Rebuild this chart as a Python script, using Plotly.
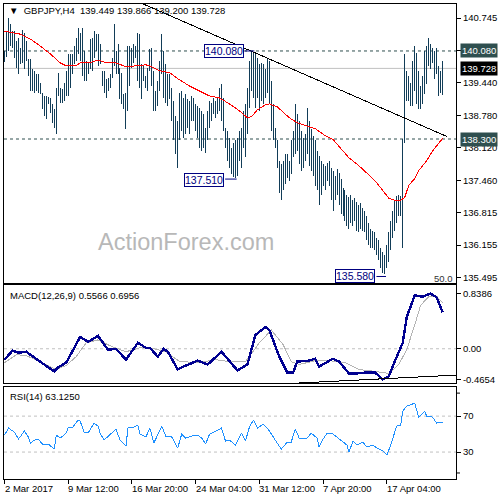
import plotly.graph_objects as go

# ---------------- data ----------------
highs = [140.08,140.48,140.74,140.63,140.48,140.48,140.28,140.34,140.14,140.50,
         140.44,140.28,139.92,139.92,139.72,139.68,139.62,139.62,139.43,139.23,
         139.17,139.17,139.15,139.13,139.01,138.91,139.33,139.64,139.33,139.31,
         139.43,139.68,140.02,140.02,140.02,140.18,140.34,140.54,140.44,140.54,
         140.08,139.88,139.84,140.32,140.34,140.48,140.42,140.42,140.22,139.68,
         139.68,139.52,139.54,139.62,139.94,140.63,140.08,140.22,139.74,139.64,
         139.21,139.23,140.18,140.18,140.14,140.22,140.18,140.44,140.42,139.82,
         139.78,139.58,139.74,140.12,140.14,139.68,139.27,139.48,139.88,140.42,
         140.08,139.82,139.62,139.62,139.33,139.07,138.77,138.67,139.23,139.27,
         139.13,139.21,139.11,139.07,139.17,139.13,139.01,138.97,138.93,138.87,
         138.81,138.53,138.87,139.07,139.03,139.13,139.07,139.13,139.33,139.41,
         139.13,138.53,138.47,138.33,138.12,138.21,138.27,138.33,138.47,138.53,
         138.87,139.01,139.33,139.88,140.08,140.04,140.02,139.94,139.82,139.84,
         139.82,139.72,139.92,139.88,139.48,139.01,138.53,138.27,137.86,137.80,
         137.86,138.00,138.00,137.86,138.27,138.47,139.01,138.81,138.67,138.47,
         138.33,138.41,138.93,138.67,138.51,138.37,138.27,138.06,137.96,137.86,
         137.80,137.76,137.82,137.86,137.72,137.66,137.56,137.70,137.62,137.50,
         137.30,137.26,137.16,137.12,137.16,137.06,137.10,137.02,136.96,137.00,
         136.90,136.85,136.75,136.61,136.49,136.45,136.41,136.29,136.25,136.09,
         136.01,135.95,136.15,136.41,136.65,136.85,137.06,137.14,137.16,137.14,
         138.31,140.02,139.68,139.58,139.43,139.88,140.18,140.04,139.68,139.37,
         139.58,140.08,140.18,140.34,140.22,140.14,140.08,140.14,139.78,139.68,
         139.87]
lows = [139.86,139.96,140.08,140.18,140.14,139.94,139.74,139.62,139.82,139.84,
        139.72,139.88,139.58,139.27,139.27,139.23,139.27,139.23,139.21,138.91,
        138.77,138.71,139.01,138.83,138.63,138.53,138.41,139.17,139.03,139.03,
        139.07,139.17,139.17,139.33,139.62,139.82,139.88,140.02,139.88,139.58,
        139.48,139.48,139.62,139.72,139.68,139.94,140.08,139.78,139.82,139.37,
        139.23,139.13,139.27,139.33,139.54,139.78,139.62,139.62,139.11,139.01,
        138.91,138.51,138.87,139.37,139.74,139.84,139.94,139.48,139.33,139.11,
        139.48,139.33,139.27,139.68,139.37,138.87,138.87,138.97,139.27,139.62,
        139.13,139.03,138.97,139.11,138.67,138.27,138.00,137.72,138.27,138.47,
        138.33,138.41,138.53,138.41,138.67,138.67,138.47,138.33,138.12,138.06,
        138.12,138.02,138.27,138.53,138.67,138.81,138.73,138.81,138.87,138.67,
        138.47,138.12,137.86,137.72,137.60,137.54,137.51,137.56,137.86,137.72,
        138.12,137.93,138.41,138.93,139.27,139.13,138.93,139.13,138.87,139.07,
        139.01,139.13,139.23,139.01,138.47,138.27,138.12,137.72,137.20,137.06,
        137.26,137.40,137.52,137.46,137.60,137.93,138.00,138.06,137.80,137.66,
        137.72,137.86,138.00,137.76,137.66,137.56,137.36,137.26,136.96,137.16,
        137.36,137.26,137.46,137.36,137.06,136.85,137.06,137.16,136.96,136.79,
        136.75,136.65,136.55,136.49,136.61,136.55,136.65,136.45,136.41,136.49,
        136.45,136.41,136.25,136.15,136.09,136.09,136.05,135.95,135.85,135.69,
        135.60,135.58,135.69,135.81,136.05,136.29,136.45,136.61,136.75,136.75,
        136.09,138.21,139.07,139.07,138.97,138.97,139.27,139.01,138.91,138.91,
        139.01,139.21,139.41,139.78,139.72,139.84,139.52,139.62,139.17,139.23,
        139.20]

ma_idx = [0,3,8,13,18,23,28,31,36,38,43,47,51,56,61,66,71,73,78,83,87,93,98,103,108,
          113,118,122,124,127,131,133,137,140,143,147,151,156,161,165,168,173,178,182,
          186,190,193,196,199,201,203,206,208,212,215,217,220]
ma_val = [140.48,140.46,140.42,140.32,140.18,140.02,139.84,139.78,139.78,139.84,139.84,
          139.90,139.84,139.84,139.76,139.78,139.80,139.78,139.68,139.64,139.52,139.37,
          139.27,139.17,139.13,139.01,138.87,138.73,138.75,138.89,138.99,139.01,138.95,
          138.85,138.73,138.63,138.57,138.51,138.37,138.29,138.15,137.92,137.76,137.62,
          137.46,137.26,137.10,137.06,137.06,137.12,137.36,137.50,137.66,137.86,138.06,
          138.16,138.31]

trend_idx = [69.7, 222.2]
trend_val = [141.03, 138.35]

macd_idx = [0,4,7,11,15,20,25,27,31,34,38,42,47,52,56,61,67,71,73,77,80,82,87,90,97,
            102,109,117,122,126,131,133,138,142,145,147,153,156,158,165,168,173,177,182,
            186,190,193,197,200,202,206,210,214,217,220]
macd_val = [-0.165,-0.03,-0.06,-0.045,-0.135,-0.24,-0.344,-0.284,-0.21,-0.045,0.18,0.105,
            0.195,-0.015,0.0,-0.165,0.09,0.015,0.015,-0.12,0.0,-0.045,-0.314,-0.27,-0.18,
            -0.24,-0.045,-0.33,-0.24,0.21,0.33,0.284,-0.12,-0.36,-0.36,-0.195,-0.18,-0.15,
            -0.27,-0.15,-0.195,-0.374,-0.374,-0.36,-0.36,-0.4654,-0.42,-0.12,0.09,0.48,
            0.81,0.79,0.8386,0.78,0.5566]
sig_idx = [0,6,11,18,26,31,36,41,47,53,61,68,73,81,88,98,106,113,121,128,134,140,144,
           148,156,163,171,178,186,193,198,202,206,209,213,217,220]
sig_val = [-0.21,-0.09,-0.105,-0.195,-0.314,-0.254,-0.12,0.09,0.135,0.045,-0.045,0.015,
           0.015,-0.045,-0.195,-0.21,-0.165,-0.195,-0.195,0.09,0.284,0.06,-0.195,-0.24,
           -0.18,-0.18,-0.21,-0.314,-0.344,-0.374,-0.24,-0.015,0.36,0.66,0.79,0.80,0.6956]
macd_trend_idx = [146, 226.85]
macd_trend_val = [-0.523, -0.40]

rsi_idx = [0,2,5,7,10,12,13,15,17,19,22,25,26,28,31,32,34,37,38,40,42,45,47,48,50,53,56,
           58,61,62,65,67,68,71,73,75,77,79,81,84,87,89,91,94,97,99,101,103,107,109,111,
           113,116,119,121,123,125,127,130,132,134,137,139,142,144,146,148,152,154,157,
           158,160,162,165,168,172,173,175,177,180,182,185,187,190,192,194,196,197,199,
           200,202,206,208,211,212,215,217,220]
rsi_val = [48.9,56.7,52.2,44.4,53.3,46.7,40.0,43.3,44.4,38.9,38.9,33.3,48.9,45.6,51.1,
           57.8,56.7,65.6,64.4,52.2,51.1,62.2,58.9,51.1,43.3,50.0,55.6,43.3,36.7,56.7,
           57.8,60.0,50.0,46.7,56.7,40.0,48.9,58.9,47.8,46.7,34.4,50.0,45.6,47.8,48.9,
           45.6,38.9,50.0,54.4,56.7,42.2,43.3,37.8,51.1,42.2,57.8,65.6,56.7,61.1,56.7,
           50.0,40.0,33.3,41.1,41.1,55.6,45.6,45.6,51.1,45.6,35.6,44.4,51.1,50.0,44.4,
           37.8,30.0,42.2,37.8,41.1,35.6,37.8,34.4,31.1,26.7,37.8,52.2,58.9,60.0,75.6,
           81.1,84.4,68.9,75.6,70.0,68.9,62.2,63.125]

price_ticks = [140.745, 140.080, 139.440, 138.780, 138.120, 137.460, 136.815, 136.155, 135.495]
macd_ticks = [0.8386, 0.0, -0.4654]
macd_ticktext = ["0.8386", "0.00", "-0.4654"]
rsi_levels = [70, 30]
rsi_ticks = [70, 30]
rsi_ticktext = ["70", "30"]
rsi_edge_labels = ["100", "0"]
rsi_edge_pos = [95.6, 6.7]

date_idx = [0, 32, 64, 96, 128, 160, 192]
date_labels = ["2 Mar 2017", "9 Mar 12:00", "16 Mar 20:00", "24 Mar 04:00",
               "31 Mar 12:00", "7 Apr 20:00", "17 Apr 04:00"]

level_high = 140.080
level_low = 138.300
last_close = 139.728
swing_labels = [("140.080", 110.2, 140.08, 120.8, 125.5, 140.08),
                ("137.510", 100.2, 137.47, 110.8, 116.6, 137.49),
                ("135.580", 176.2, 135.52, 186.8, 191.6, 135.52)]

# ---------------- styling ----------------
FONT = "Liberation Sans, Arial, sans-serif"
BAR = "#123d58"
XR = [-0.25, 226.75]

bx, by = [], []
for i, (h, l) in enumerate(zip(highs, lows)):
    bx += [i, i, None]
    by += [l, h, None]

fig = go.Figure()
fig.add_trace(go.Scatter(x=bx, y=by, mode="lines", line=dict(color=BAR, width=1),
                         xaxis="x", yaxis="y", hoverinfo="skip"))
fig.add_trace(go.Scatter(x=ma_idx, y=ma_val, mode="lines", line=dict(color="#ff0000", width=1),
                         xaxis="x", yaxis="y"))
fig.add_trace(go.Scatter(x=trend_idx, y=trend_val, mode="lines", line=dict(color="black", width=1),
                         xaxis="x", yaxis="y"))
fig.add_trace(go.Scatter(x=sig_idx, y=sig_val, mode="lines", line=dict(color="#b4b4b4", width=1),
                         xaxis="x2", yaxis="y2"))
fig.add_trace(go.Scatter(x=macd_idx, y=macd_val, mode="lines", line=dict(color="#000090", width=2.4),
                         xaxis="x2", yaxis="y2"))
fig.add_trace(go.Scatter(x=macd_trend_idx, y=macd_trend_val, mode="lines",
                         line=dict(color="black", width=1), xaxis="x2", yaxis="y2"))
fig.add_trace(go.Scatter(x=rsi_idx, y=rsi_val, mode="lines", line=dict(color="#1e90ff", width=1),
                         xaxis="x3", yaxis="y3"))
# RSI "100"/"0" scale labels drawn as text beside the right edge of the RSI panel
fig.add_trace(go.Scatter(x=[XR[1] + 1.2] * 2, y=rsi_edge_pos, mode="text", text=rsi_edge_labels,
                         textposition="middle right", cliponaxis=False,
                         textfont=dict(family=FONT, size=9.5, color="black"),
                         xaxis="x3", yaxis="y3", hoverinfo="skip"))

shapes = [
    dict(type="line", xref="x domain", yref="y", x0=0, x1=1, y0=level_high, y1=level_high,
         line=dict(color="#2f4f4f", width=1, dash="3px,3px"), layer="below"),
    dict(type="line", xref="x domain", yref="y", x0=0, x1=1, y0=level_low, y1=level_low,
         line=dict(color="#2f4f4f", width=1, dash="3px,3px"), layer="below"),
    dict(type="line", xref="x domain", yref="y", x0=0, x1=1, y0=last_close, y1=last_close,
         line=dict(color="#c0c0c0", width=1), layer="below"),
    dict(type="line", xref="x2 domain", yref="y2", x0=0, x1=1, y0=0, y1=0,
         line=dict(color="#c0c0c0", width=1, dash="3px,3px"), layer="below"),
]
for lv in rsi_levels:
    shapes.append(dict(type="line", xref="x3 domain", yref="y3", x0=0, x1=1, y0=lv, y1=lv,
                       line=dict(color="#c0c0c0", width=1, dash="3px,3px"), layer="below"))
for pos in rsi_edge_pos:
    shapes.append(dict(type="line", xref="paper", yref="y3", x0=1, x1=1.0088, y0=pos, y1=pos,
                       line=dict(color="black", width=1)))

ann = []
for txt, cx, cy, lx0, lx1, ly in swing_labels:
    shapes.append(dict(type="line", xref="x", yref="y", x0=lx0, x1=lx1, y0=ly, y1=ly,
                       line=dict(color="#000080", width=1)))
    ann.append(dict(text=txt, x=cx, y=cy, xref="x", yref="y", showarrow=False,
                    xanchor="center", yanchor="middle", bgcolor="white",
                    bordercolor="#000080", borderwidth=1, borderpad=0,
                    font=dict(family=FONT, size=10.5, color="#000080")))

for txt, val, bg in [("140.080", level_high, "#2f4f4f"), ("139.728", last_close, "black"),
                     ("138.300", level_low, "#2f4f4f")]:
    ann.append(dict(text=txt, x=1, y=val, xref="paper", yref="y", showarrow=False,
                    xanchor="left", yanchor="middle", xshift=4, bgcolor=bg, borderpad=1,
                    font=dict(family=FONT, size=9.5, color="white")))

ann.append(dict(text="\u25bc\u00a0\u00a0GBPJPY,H4\u00a0\u00a0139.449 139.866 139.200 139.728",
                x=0.007, y=0.9853, xref="paper", yref="paper", showarrow=False,
                xanchor="left", yanchor="middle", font=dict(family=FONT, size=9.5, color="black")))
ann.append(dict(text="MACD(12,26,9) 0.5566 0.6956", x=0.009, y=0.3866, xref="paper", yref="paper",
                showarrow=False, xanchor="left", yanchor="middle",
                font=dict(family=FONT, size=9.5, color="black")))
ann.append(dict(text="RSI(14) 63.1250", x=0.009, y=0.1744, xref="paper", yref="paper",
                showarrow=False, xanchor="left", yanchor="middle",
                font=dict(family=FONT, size=9.5, color="black")))
ann.append(dict(text="50.0", x=0.9978, y=0.4223, xref="paper", yref="paper", showarrow=False,
                xanchor="right", yanchor="middle", font=dict(family=FONT, size=9.5, color="#333333")))
ann.append(dict(text="ActionForex.com", x=0.403, y=0.50, xref="paper", yref="paper",
                showarrow=False, xanchor="center", yanchor="middle",
                font=dict(family=FONT, size=23.5, color="#b8b8b8")))
for di, dl in zip(date_idx, date_labels):
    ann.append(dict(text=dl, x=di, y=-0.019, xref="x3", yref="paper", showarrow=False,
                    xanchor="left", yanchor="middle", xshift=-2,
                    font=dict(family=FONT, size=9.5, color="black")))

ax_common = dict(showline=True, mirror=True, linecolor="black", linewidth=1,
                 showgrid=False, zeroline=False)
xcommon = dict(range=XR, domain=[0, 1], showticklabels=False, **ax_common)
ycommon = dict(side="right", ticks="outside", ticklen=4, tickcolor="black",
               tickfont=dict(family=FONT, size=9.5, color="black"), **ax_common)

fig.update_layout(
    width=500, height=500,
    margin=dict(l=3, r=43, t=3, b=21),
    paper_bgcolor="white", plot_bgcolor="white",
    showlegend=False,
    xaxis=dict(anchor="y", ticks="", **xcommon),
    xaxis2=dict(anchor="y2", matches="x", ticks="", **xcommon),
    xaxis3=dict(anchor="y3", matches="x", ticks="outside", ticklen=4, tickcolor="black",
                tickvals=date_idx, **xcommon),
    yaxis=dict(domain=[0.41176, 1.0], range=[135.38, 141.03], tickvals=price_ticks,
               ticktext=["%.3f" % v for v in price_ticks], anchor="x", **ycommon),
    yaxis2=dict(domain=[0.20168, 0.40756], range=[-0.523, 0.962], tickvals=macd_ticks,
                ticktext=macd_ticktext, anchor="x2", **ycommon),
    yaxis3=dict(domain=[0.0, 0.19328], range=[0, 102.2], tickvals=rsi_ticks,
                ticktext=rsi_ticktext, anchor="x3", **ycommon),
    shapes=shapes,
    annotations=ann,
)

post = ("document.body.style.margin='0';document.body.style.overflow='hidden';"
        "document.querySelectorAll('path.js-line').forEach(function(p){"
        "p.style.shapeRendering='crispEdges';});")
fig.write_html("out.html", config={"displayModeBar": False}, post_script=post)
